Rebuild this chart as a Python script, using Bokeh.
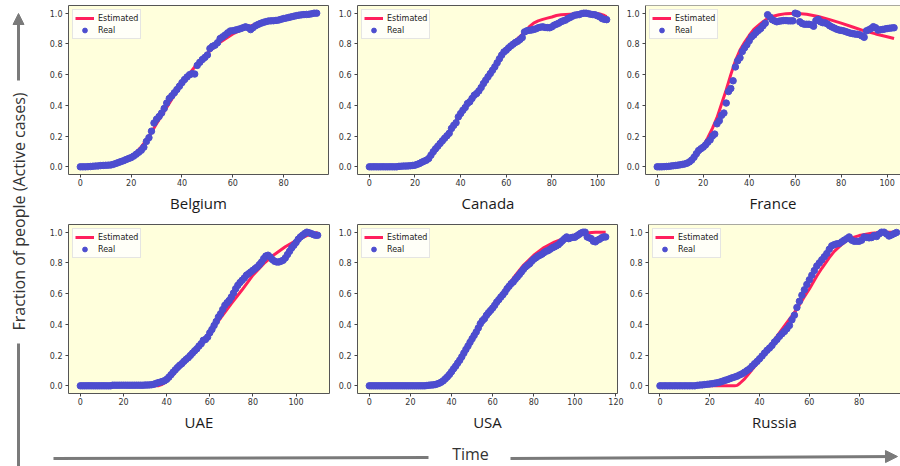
import math
from bokeh.plotting import figure
from bokeh.layouts import row, column
from bokeh.models import (Range1d, FixedTicker, PrintfTickFormatter, Legend, LegendItem,
                          Span, Label, Arrow, NormalHead)
from bokeh.embed import file_html
from bokeh.resources import INLINE

# ---------------- data ----------------
countries = ["Belgium", "Canada", "France", "UAE", "USA", "Russia"]

belgium_real = [0.000, 0.000, 0.000, 0.001, 0.002, 0.004, 0.005, 0.006, 0.008, 0.009,
                0.010, 0.011, 0.012, 0.016, 0.022, 0.028, 0.034, 0.040, 0.047, 0.054,
                0.060, 0.070, 0.082, 0.095, 0.108, 0.128, 0.165, 0.190, 0.232, 0.285,
                0.310, 0.328, 0.350, 0.380, 0.415, 0.445, 0.462, 0.482, 0.503, 0.525,
                0.548, 0.568, 0.585, 0.600, 0.606, 0.604, 0.660, 0.680, 0.698, 0.712,
                0.728, 0.770, 0.784, 0.792, 0.808, 0.835, 0.846, 0.858, 0.872, 0.884,
                0.886, 0.890, 0.894, 0.899, 0.905, 0.911, 0.906, 0.893, 0.906, 0.919,
                0.927, 0.934, 0.940, 0.945, 0.949, 0.950, 0.951, 0.953, 0.955, 0.960,
                0.965, 0.968, 0.972, 0.976, 0.980, 0.984, 0.987, 0.989, 0.991, 0.992,
                0.993, 0.996, 1.000, 1.000]
belgium_est_x = [0, 5, 10, 12, 14, 16, 18, 20, 22, 24, 26, 28, 30, 33, 36, 40, 45, 50,
                 55, 60, 65, 70, 75, 80, 85, 90, 93]
belgium_est_y = [0, 0.001, 0.004, 0.008, 0.014, 0.025, 0.042, 0.065, 0.095, 0.13, 0.175,
                 0.225, 0.28, 0.36, 0.44, 0.545, 0.65, 0.74, 0.81, 0.865, 0.905, 0.935,
                 0.955, 0.97, 0.983, 0.994, 1.0]

canada_real = [0.000, 0.000, 0.000, 0.000, 0.000, 0.000, 0.000, 0.000, 0.000, 0.000,
               0.000, 0.000, 0.000, 0.003, 0.004, 0.005, 0.005, 0.006, 0.007, 0.009,
               0.011, 0.016, 0.022, 0.030, 0.037, 0.043, 0.054, 0.076, 0.098, 0.117,
               0.134, 0.152, 0.169, 0.186, 0.202, 0.218, 0.250, 0.270, 0.287, 0.325,
               0.347, 0.368, 0.386, 0.412, 0.423, 0.445, 0.466, 0.477, 0.494, 0.516,
               0.542, 0.564, 0.586, 0.607, 0.629, 0.651, 0.677, 0.703, 0.727, 0.748,
               0.759, 0.774, 0.787, 0.798, 0.809, 0.817, 0.828, 0.841, 0.878, 0.885,
               0.889, 0.890, 0.894, 0.898, 0.905, 0.909, 0.911, 0.907, 0.906, 0.905,
               0.911, 0.922, 0.928, 0.935, 0.944, 0.950, 0.955, 0.965, 0.972, 0.980,
               0.987, 0.989, 0.991, 0.997, 1.000, 1.000, 0.997, 0.993, 0.991, 0.989,
               0.983, 0.976, 0.965, 0.960, 0.958]
canada_est_x = [0, 20, 22, 24, 26, 28, 30, 35, 40, 45, 50, 55, 60, 65, 68, 70, 72, 74,
                76, 78, 80, 82, 84, 88, 92, 96, 99, 101, 103, 104]
canada_est_y = [0, 0.002, 0.01, 0.025, 0.05, 0.085, 0.125, 0.23, 0.34, 0.445, 0.545,
                0.655, 0.765, 0.835, 0.875, 0.91, 0.935, 0.95, 0.96, 0.968, 0.975,
                0.985, 0.99, 0.993, 0.996, 0.999, 1.0, 0.995, 0.985, 0.978]

france_real = [0.000, 0.000, 0.000, 0.001, 0.002, 0.003, 0.005, 0.007, 0.009, 0.011,
               0.013, 0.016, 0.019, 0.024, 0.032, 0.044, 0.062, 0.085, 0.106, 0.118,
               0.128, 0.142, 0.160, 0.175, 0.200, 0.213, 0.280, 0.300, 0.335, 0.350,
               0.415, 0.490, 0.510, 0.560, 0.650, 0.690, 0.710, 0.750, 0.775, 0.795,
               0.820, 0.845, 0.858, 0.875, 0.888, 0.900, 0.918, 0.935, 0.990, 0.975,
               0.958, 0.950, 0.944, 0.948, 0.950, 0.952, 0.952, 0.950, 0.950, 0.950,
               1.000, 0.995, 0.944, 0.933, 0.928, 0.928, 0.928, 0.924, 0.915, 0.952,
               0.960, 0.944, 0.938, 0.937, 0.930, 0.918, 0.910, 0.903, 0.896, 0.891,
               0.888, 0.885, 0.880, 0.875, 0.870, 0.867, 0.864, 0.863, 0.860, 0.852,
               0.843, 0.885, 0.892, 0.900, 0.912, 0.905, 0.890, 0.892, 0.894, 0.897,
               0.900, 0.902, 0.904, 0.905]
france_est_x = [0, 8, 10, 12, 14, 16, 18, 20, 22, 24, 26, 28, 30, 32, 34, 36, 38, 40, 42,
                44, 46, 48, 50, 53, 56, 60, 65, 70, 75, 80, 85, 90, 95, 100, 103]
france_est_y = [0, 0, 0.003, 0.01, 0.025, 0.05, 0.088, 0.135, 0.19, 0.25, 0.32, 0.41,
                0.5, 0.6, 0.69, 0.76, 0.81, 0.855, 0.895, 0.92, 0.945, 0.965, 0.978,
                0.99, 0.997, 1.0, 0.993, 0.978, 0.958, 0.935, 0.91, 0.885, 0.865, 0.847,
                0.835]

uae_real = [0.000, 0.000, 0.000, 0.000, 0.000, 0.000, 0.000, 0.000, 0.000, 0.000,
            0.000, 0.000, 0.000, 0.000, 0.000, 0.004, 0.004, 0.004, 0.004, 0.004,
            0.004, 0.004, 0.004, 0.004, 0.004, 0.004, 0.004, 0.004, 0.004, 0.004,
            0.005, 0.005, 0.006, 0.007, 0.010, 0.015, 0.020, 0.024, 0.028, 0.033,
            0.042, 0.056, 0.072, 0.089, 0.104, 0.119, 0.133, 0.144, 0.159, 0.172,
            0.183, 0.198, 0.213, 0.228, 0.241, 0.259, 0.274, 0.296, 0.302, 0.317,
            0.345, 0.367, 0.393, 0.419, 0.448, 0.469, 0.497, 0.524, 0.541, 0.556,
            0.578, 0.604, 0.632, 0.654, 0.672, 0.687, 0.702, 0.720, 0.730, 0.741,
            0.752, 0.763, 0.774, 0.789, 0.806, 0.828, 0.845, 0.850, 0.839, 0.822,
            0.811, 0.806, 0.806, 0.811, 0.817, 0.832, 0.854, 0.876, 0.898, 0.915,
            0.933, 0.954, 0.969, 0.980, 0.991, 1.000, 0.996, 0.991, 0.985, 0.980,
            0.980]
uae_est_x = [0, 36, 38, 40, 42, 45, 50, 55, 60, 65, 70, 75, 80, 85, 90, 95, 100, 105, 110]
uae_est_y = [0, 0, 0.01, 0.028, 0.055, 0.105, 0.19, 0.265, 0.345, 0.44, 0.535, 0.625,
             0.72, 0.795, 0.855, 0.905, 0.945, 0.978, 0.998]

usa_real = [0.000] * 28 + [
            0.002, 0.004, 0.005, 0.006, 0.008, 0.012, 0.017, 0.024, 0.033, 0.046,
            0.059, 0.074, 0.092, 0.111, 0.128, 0.148, 0.167, 0.189, 0.213, 0.237,
            0.259, 0.283, 0.306, 0.328, 0.350, 0.376, 0.404, 0.424, 0.437, 0.459,
            0.476, 0.491, 0.506, 0.524, 0.545, 0.561, 0.578, 0.593, 0.610, 0.632,
            0.648, 0.665, 0.676, 0.693, 0.708, 0.724, 0.741, 0.758, 0.774, 0.785,
            0.795, 0.811, 0.824, 0.833, 0.843, 0.850, 0.857, 0.867, 0.876, 0.880,
            0.889, 0.898, 0.904, 0.911, 0.919, 0.932, 0.945, 0.958, 0.969, 0.958,
            0.963, 0.967, 0.967, 0.976, 0.985, 0.994, 1.000, 1.000, 0.969, 0.963,
            0.958, 0.941, 0.937, 0.948, 0.954, 0.963, 0.969, 0.969]
usa_est_x = [0, 32, 34, 36, 38, 40, 45, 50, 55, 60, 65, 70, 75, 80, 85, 90, 95, 100,
             105, 110, 115]
usa_est_y = [0, 0, 0.008, 0.025, 0.05, 0.085, 0.19, 0.3, 0.41, 0.515, 0.61, 0.7, 0.785,
             0.85, 0.9, 0.935, 0.962, 0.982, 0.995, 1.0, 1.0]

russia_real = [0.000, 0.000, 0.000, 0.000, 0.000, 0.000, 0.000, 0.000, 0.000, 0.000,
               0.000, 0.000, 0.000, 0.000, 0.000, 0.003, 0.005, 0.006, 0.008, 0.010,
               0.012, 0.014, 0.017, 0.020, 0.024, 0.029, 0.035, 0.040, 0.046, 0.052,
               0.057, 0.063, 0.071, 0.078, 0.089, 0.100, 0.111, 0.128, 0.144, 0.159,
               0.176, 0.194, 0.213, 0.231, 0.246, 0.263, 0.285, 0.302, 0.322, 0.339,
               0.354, 0.372, 0.393, 0.430, 0.460, 0.510, 0.550, 0.590, 0.625, 0.660,
               0.690, 0.720, 0.750, 0.780, 0.800, 0.820, 0.840, 0.861, 0.889, 0.911,
               0.919, 0.924, 0.926, 0.937, 0.948, 0.958, 0.969, 0.948, 0.941, 0.941,
               0.941, 0.948, 0.969, 0.966, 0.963, 0.965, 0.978, 0.972, 0.988, 1.000,
               1.000, 0.988, 0.975, 0.982, 0.990, 0.998]
russia_est_x = [0, 30, 31, 32, 34, 36, 38, 40, 43, 46, 50, 53, 55, 58, 60, 63, 65, 68,
                70, 73, 75, 78, 80, 85, 90, 95]
russia_est_y = [0, 0, 0.003, 0.015, 0.045, 0.085, 0.125, 0.17, 0.235, 0.3, 0.39, 0.455,
                0.5, 0.58, 0.63, 0.715, 0.765, 0.835, 0.875, 0.92, 0.945, 0.968, 0.978,
                0.993, 0.999, 1.0]

x_ticks = {
    "Belgium": [0, 20, 40, 60, 80],
    "Canada": [0, 20, 40, 60, 80, 100],
    "France": [0, 20, 40, 60, 80, 100],
    "UAE": [0, 20, 40, 60, 80, 100],
    "USA": [0, 20, 40, 60, 80, 100, 120],
    "Russia": [0, 20, 40, 60, 80],
}
y_ticks = [0.0, 0.2, 0.4, 0.6, 0.8, 1.0]
legend_labels = ["Estimated", "Real"]
y_title = "Fraction of people (Active cases)"
x_title = "Time"

# ---------------- style ----------------
RED = "#ff1f5b"
BLUE = "#4d4dcf"
BG = "#ffffdc"
EDGE = "#555555"
GRAY = "#7a7a7a"
TICKF = "DejaVu Sans"
LABF = "Open Sans"


def make_panel(name, real, ex, ey, xr, left, right, top, bottom, fw, fh, cut):
    p = figure(width=left + fw + right, height=top + fh + bottom,
               x_range=Range1d(*xr), y_range=Range1d(-0.05, 1.05),
               output_backend="svg", toolbar_location=None, tools="",
               min_border_left=left, min_border_right=right,
               min_border_top=top, min_border_bottom=bottom)
    p.background_fill_color = BG
    p.border_fill_color = "white"
    p.grid.visible = False
    days = list(range(len(real)))
    r_line = p.line(ex, ey, line_color=RED, line_width=3)
    r_pts = p.scatter(days, real, size=6.5, fill_color=BLUE, line_color=BLUE)

    xa = p.xaxis[0]
    xa.ticker = FixedTicker(ticks=x_ticks[name])
    xa.axis_label = name
    xa.axis_label_text_font = LABF
    xa.axis_label_text_font_size = "15px"
    xa.axis_label_text_font_style = "normal"
    xa.axis_label_text_color = "#1a1a1a"
    xa.axis_label_standoff = 4
    xa.major_label_standoff = 1

    ya = p.yaxis[0]
    ya.ticker = FixedTicker(ticks=y_ticks)
    ya.formatter = PrintfTickFormatter(format="%.1f")
    ya.major_label_standoff = 3

    for ax in (xa, ya):
        ax.major_label_text_font = TICKF
        ax.major_label_text_font_size = "8px"
        ax.major_label_text_color = "#333333"
        ax.major_tick_out = 3
        ax.major_tick_in = 0
        ax.minor_tick_out = 0
        ax.minor_tick_in = 0
        ax.major_tick_line_color = "#444444"
        ax.axis_line_color = EDGE if cut else None

    if cut:
        p.outline_line_color = None
        p.add_layout(Span(location=1.05, dimension="width", line_color=EDGE, line_width=1))
    else:
        p.outline_line_color = EDGE
        p.outline_line_width = 1

    legend = Legend(items=[LegendItem(label=legend_labels[0], renderers=[r_line]),
                           LegendItem(label=legend_labels[1], renderers=[r_pts])],
                    location="top_left")
    legend.label_text_font = TICKF
    legend.label_text_font_size = "8px"
    legend.label_text_color = "#222222"
    legend.glyph_width = 19
    legend.glyph_height = 12
    legend.label_height = 12
    legend.label_standoff = 4
    legend.spacing = 0
    legend.padding = 2
    legend.margin = 4
    legend.border_line_color = "#cccccc"
    legend.background_fill_color = "white"
    legend.background_fill_alpha = 0.8
    p.add_layout(legend)
    return p


# row 1: frames at y 5..174 ; row 2: frames at y 224..393
p1 = make_panel("Belgium", belgium_real, belgium_est_x, belgium_est_y, (-4.65, 97.65),
                24, 5, 5, 46, 260, 169, False)
p2 = make_panel("Canada", canada_real, canada_est_x, canada_est_y, (-5.2, 109.2),
                24, 3, 5, 46, 261, 169, False)
p3 = make_panel("France", france_real, france_est_x, france_est_y, (-5.1, 105.8),
                24, 0, 5, 46, 255, 169, True)
p4 = make_panel("UAE", uae_real, uae_est_x, uae_est_y, (-5.5, 115.5),
                24, 4, 4, 44, 261, 169, False)
p5 = make_panel("USA", usa_real, usa_est_x, usa_est_y, (-5.75, 120.75),
                24, 7, 4, 44, 260, 169, False)
p6 = make_panel("Russia", russia_real, russia_est_x, russia_est_y, (-4.6, 96.6),
                24, 0, 4, 44, 252, 169, True)

# left decoration: vertical arrow + title
lf = figure(width=44, height=466, x_range=Range1d(0, 44), y_range=Range1d(466, 0),
            output_backend="svg", toolbar_location=None, tools="", min_border=0,
            x_axis_type=None, y_axis_type=None)
lf.outline_line_color = None
lf.grid.visible = False
lf.add_layout(Arrow(end=NormalHead(size=11, fill_color=GRAY, line_color=GRAY),
                    x_start=18, y_start=80, x_end=18, y_end=13,
                    line_color=GRAY, line_width=3))
lf.add_layout(Label(x=18, y=211, text=y_title, angle=math.pi / 2,
                    text_align="center", text_baseline="middle",
                    text_font=LABF, text_font_size="16px", text_color="#333333"))
lf.add_layout(Arrow(end=None, x_start=18, y_start=343, x_end=18, y_end=466,
                    line_color=GRAY, line_width=3))

# bottom decoration: horizontal arrow + title
bf = figure(width=856, height=29, x_range=Range1d(0, 856), y_range=Range1d(29, 0),
            output_backend="svg", toolbar_location=None, tools="", min_border=0,
            x_axis_type=None, y_axis_type=None)
bf.outline_line_color = None
bf.grid.visible = False
bf.add_layout(Arrow(end=None, x_start=9, y_start=21, x_end=384, y_end=20,
                    line_color=GRAY, line_width=3))
bf.add_layout(Label(x=426, y=16, text=x_title, text_align="center", text_baseline="middle",
                    text_font=LABF, text_font_size="16px", text_color="#333333"))
bf.add_layout(Arrow(end=NormalHead(size=12, fill_color=GRAY, line_color=GRAY),
                    x_start=466, y_start=21, x_end=853, y_end=19,
                    line_color=GRAY, line_width=3))

layout = row(lf, column(row(p1, p2, p3), row(p4, p5, p6), bf))

open("out.html", "w").write(file_html(layout, INLINE))
